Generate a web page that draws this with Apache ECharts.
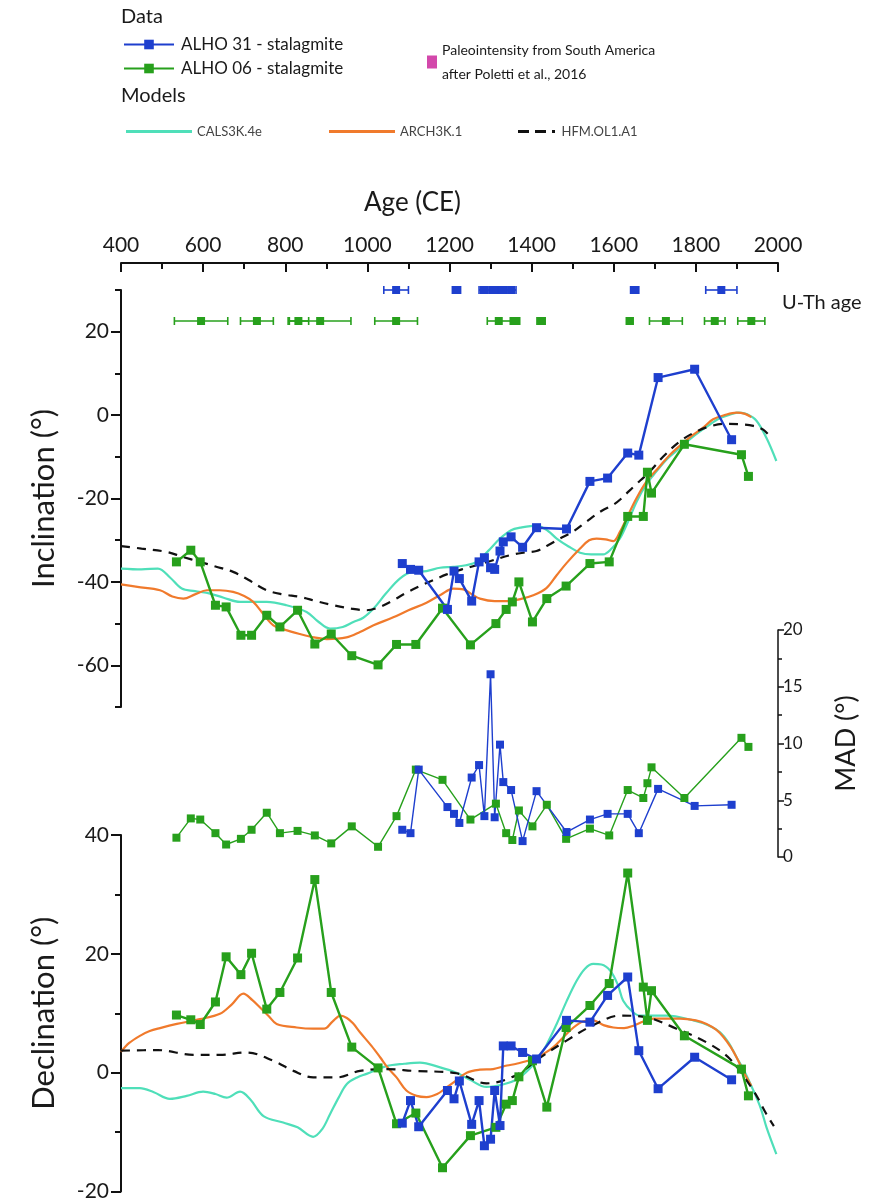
<!DOCTYPE html>
<html>
<head>
<meta charset="utf-8">
<script src="https://cdn.jsdelivr.net/npm/echarts@6/dist/echarts.min.js"></script>
<style>
  html, body { margin: 0; padding: 0; background: #ffffff; }
  #chart { width: 887px; height: 1202px; }
</style>
</head>
<body>
<div id="chart"></div>
<script>
// ---- Sample ages (CE) for each stalagmite ----
const ages31 = [1085, 1105, 1125, 1195, 1211, 1224, 1254, 1272, 1285, 1300, 1310, 1323, 1331, 1350, 1378, 1412, 1485, 1542, 1585, 1634, 1661, 1708, 1797, 1887];
const ages06 = [535, 570, 593, 630, 656, 692, 718, 755, 787, 830, 872, 912, 962, 1026, 1071, 1118, 1183, 1251, 1313, 1338, 1353, 1369, 1402, 1437, 1484, 1542, 1589, 1634, 1672, 1682, 1692, 1772, 1911, 1928];

// ---- Inclination (deg) ----
const inc31 = [-35.6, -37.0, -37.2, -46.6, -37.4, -39.2, -44.6, -35.2, -34.2, -36.6, -37.0, -32.6, -30.4, -29.2, -31.7, -27.0, -27.3, -15.9, -15.1, -9.1, -9.6, 9.0, 11.0, -5.9];
const inc06 = [-35.2, -32.4, -35.2, -45.6, -46.0, -52.8, -52.8, -48.0, -50.8, -46.8, -54.9, -52.5, -57.7, -59.9, -55.0, -55.0, -46.3, -55.1, -50.0, -46.6, -44.8, -40.0, -49.6, -44.0, -41.0, -35.6, -35.2, -24.3, -24.3, -13.7, -18.7, -7.0, -9.5, -14.7];

// ---- MAD (deg) ----
const mad31 = [2.4, 2.1, 7.7, 4.4, 3.8, 3.0, 7.0, 8.1, 3.6, 16.1, 3.5, 9.9, 6.6, 5.9, 1.4, 5.8, 2.2, 3.3, 3.8, 3.8, 2.1, 6.0, 4.5, 4.6];
const mad06 = [1.7, 3.4, 3.3, 2.1, 1.1, 1.6, 2.4, 3.9, 2.1, 2.3, 1.9, 1.2, 2.7, 0.9, 3.6, 7.7, 6.8, 3.3, 4.7, 2.1, 1.5, 4.1, 2.7, 4.6, 1.6, 2.5, 1.9, 5.9, 5.2, 6.5, 7.9, 5.2, 10.5, 9.7];

// ---- Declination (deg) ----
const dec31 = [-8.5, -4.7, -9.1, -3.0, -4.4, -1.4, -8.7, -4.7, -12.3, -11.2, -3.0, -8.9, 4.5, 4.5, 3.4, 2.3, 8.8, 8.5, 13.0, 16.1, 3.7, -2.7, 2.6, -1.2];
const dec06 = [9.7, 8.9, 8.1, 11.9, 19.5, 16.5, 20.1, 10.7, 13.5, 19.3, 32.5, 13.5, 4.3, 0.8, -8.6, -6.8, -16.0, -10.6, -9.2, -5.3, -4.7, -0.7, 2.0, -5.8, 7.6, 11.3, 15.0, 33.6, 14.4, 8.8, 13.8, 6.2, 0.6, -3.9];

// ---- Field model curves, [age, value] ----
const incCALS = [[400,-36.8],[450,-37],[490,-36.8],[520,-39],[548,-41.6],[580,-42.2],[617,-42.8],[650,-43.8],[690,-44.8],[755,-44.8],[803,-45.6],[852,-47.2],[880,-49.5],[909,-51.2],[940,-50.8],[966,-49.6],[990,-48.6],[1015,-46.4],[1045,-42.8],[1079,-39.2],[1110,-37.6],[1144,-37.4],[1177,-36.6],[1209,-36.4],[1240,-36],[1266,-35.2],[1295,-32.5],[1323,-29.6],[1350,-27.6],[1372,-27],[1412,-26.5],[1440,-27.8],[1461,-29.6],[1490,-31.5],[1518,-33],[1545,-33.4],[1574,-33.4],[1595,-32],[1615,-29.6],[1635,-25.5],[1656,-20.7],[1680,-16.5],[1704,-13.5],[1730,-10.5],[1761,-7.9],[1785,-5.8],[1810,-3.9],[1835,-2.2],[1859,-0.7],[1885,0.2],[1905,0.6],[1925,0.2],[1948,-1.4],[1972,-5.5],[1996,-11]];
const incARCH = [[400,-40.6],[440,-41.2],[495,-42],[525,-43.5],[552,-44],[580,-43],[609,-42],[640,-42],[673,-42.4],[700,-43.4],[722,-44.8],[745,-47.5],[771,-50.4],[800,-51.5],[836,-52.5],[870,-53.3],[901,-53.7],[949,-53.3],[982,-52],[1015,-50.4],[1063,-48.5],[1100,-46.8],[1144,-45],[1180,-43],[1209,-41.6],[1234,-41.8],[1255,-43],[1274,-44],[1310,-44.6],[1340,-44.6],[1370,-44.2],[1404,-43.2],[1436,-41.5],[1461,-38.4],[1485,-35.5],[1518,-32],[1540,-30],[1558,-29.6],[1580,-29.8],[1599,-30.2],[1615,-28],[1631,-24.8],[1655,-20],[1680,-15.9],[1710,-12.5],[1737,-9.5],[1765,-7],[1794,-4.7],[1820,-2.8],[1842,-1],[1870,0],[1899,0.6],[1920,0.3],[1935,-0.5]];
const incHFM = [[400,-31.4],[450,-32],[511,-32.8],[550,-34],[592,-35.2],[630,-36.3],[673,-37.6],[710,-39.5],[755,-42],[795,-43],[836,-43.6],[875,-44.6],[917,-45.6],[960,-46.4],[998,-46.8],[1030,-46],[1063,-44.4],[1095,-42.6],[1128,-41],[1160,-39.6],[1193,-38.2],[1230,-37],[1266,-36],[1300,-35],[1347,-33.6],[1380,-33],[1412,-32.6],[1440,-31.2],[1469,-29.6],[1500,-28],[1534,-25.5],[1570,-23],[1599,-21.5],[1615,-20.3],[1650,-17],[1688,-13.5],[1720,-10],[1761,-6.3],[1800,-4],[1834,-2.7],[1870,-2.1],[1907,-2.2],[1940,-2.6],[1964,-3.5],[1984,-5.5]];

const decCALS = [[400,-2.6],[446,-2.6],[480,-3.3],[519,-4.4],[560,-3.9],[600,-3.2],[630,-3.6],[657,-4.2],[690,-3.2],[715,-4.5],[747,-7.3],[795,-8.4],[830,-9.2],[868,-10.8],[890,-9.5],[909,-7],[930,-4.2],[950,-1.9],[975,-0.8],[998,-0.2],[1047,1.1],[1090,1.5],[1128,1.7],[1177,0.9],[1217,0],[1250,-1.2],[1290,-2.4],[1330,-2],[1363,-1.2],[1385,0],[1412,2],[1435,4.5],[1461,8.2],[1485,12],[1510,15.5],[1530,17.5],[1550,18.3],[1570,18.2],[1591,17.2],[1610,14.8],[1623,12.1],[1645,10.3],[1664,9.6],[1729,9.6],[1794,8.8],[1830,8],[1859,6.8],[1880,5],[1899,2.6],[1920,0],[1940,-3],[1958,-6],[1972,-9.2],[1996,-13.7]];
const decARCH = [[400,3.5],[420,5],[446,6.2],[470,7],[495,7.5],[536,8.2],[592,9],[641,9.9],[670,11.5],[698,13.3],[720,12.2],[738,11],[760,9.5],[779,8.2],[828,7.6],[868,7.4],[895,7.4],[915,8.6],[935,9.6],[950,9.2],[965,8.3],[982,6.8],[1010,4.5],[1031,2.6],[1050,0.8],[1071,-0.8],[1095,-3],[1120,-3.9],[1144,-4.1],[1170,-3.6],[1193,-2.5],[1215,-1.4],[1242,0],[1274,0.5],[1306,0.6],[1340,1.2],[1363,1.5],[1404,2.3],[1430,3.2],[1453,4.3],[1478,6],[1502,7.6],[1525,8.6],[1550,8.8],[1575,8],[1599,7.6],[1625,7.5],[1648,7.9],[1672,8.6],[1696,9.1],[1761,9.1],[1800,8.8],[1826,8.2],[1850,7.2],[1867,6],[1885,4.3],[1899,2.6],[1915,0.3],[1935,-2.2]];
const decHFM = [[400,3.7],[490,3.8],[576,3],[641,3],[706,3.4],[771,2],[820,0.3],[868,-0.8],[925,-0.8],[982,0.3],[1047,0.6],[1112,0.3],[1217,-0.1],[1290,-1.8],[1360,-0.5],[1420,2.5],[1485,5.4],[1550,8],[1615,9.6],[1680,9.3],[1753,7.4],[1826,5.1],[1883,2.3],[1940,-3],[1972,-7],[1990,-9]];

// ---- U-Th ages: centre and 2-sigma half-width (years) ----
const uth31Age = [1070, 1217, 1284, 1307, 1330, 1350, 1651, 1862];
const uth31Err = [30, 10, 12, 10, 10, 12, 10, 38];
const uth06Age = [595, 731, 832, 885, 1070, 1320, 1361, 1423, 1639, 1727, 1846, 1935];
const uth06Err = [65, 40, 25, 75, 52, 28, 10, 10, 8, 40, 25, 33];

// ---- Axis ranges and tick values ----
const ageMin = 400, ageMax = 2000, ageStep = 200;
const incMajor = [-60, -40, -20, 0, 20];
const incMinor = [-70, -50, -30, -10, 10, 30];

// ---- Names ----
const N31 = 'ALHO 31 - stalagmite';
const N06 = 'ALHO 06 - stalagmite';
const NPI = 'Paleointensity from South America\nafter Poletti et al., 2016';
const NCALS = 'CALS3K.4e', NARCH = 'ARCH3K.1', NHFM = 'HFM.OL1.A1';

const C31 = '#1e3fce', C06 = '#27a01c', CCALS = '#4fdfb9', CARCH = '#f07a2c', CHFM = '#111111', CPI = '#c81a96';
const FONT = 'Lato, "Open Sans", sans-serif';

// legend glyphs for the model curves: a solid bar, and dashes with a dot
const ICON_SOLID = 'path://M0,0 L66,0 L66,3 L0,3 Z';
const ICON_DASHED = 'path://M0,0 L11,0 L11,3 L0,3 Z M17,0 L28,0 L28,3 L17,3 Z M34,0 L37,0 L37,3 L34,3 Z';

const zip = (a, b) => a.map((v, i) => [v, b[i]]);

// sample series (squares joined by straight segments)
function dataSeries(name, color, ages, vals, gi, opts) {
  return Object.assign({
    name, type: 'line', xAxisIndex: gi.x, yAxisIndex: gi.y,
    data: zip(ages, vals), symbol: 'rect', symbolSize: 9, showSymbol: true,
    lineStyle: { color, width: 2.4 }, itemStyle: { color, borderWidth: 0 },
    z: 5, animation: false, silent: true
  }, opts || {});
}
// model curve series
function modelSeries(name, color, data, gi, dashed) {
  return {
    name, type: 'line', xAxisIndex: gi.x, yAxisIndex: gi.y, data,
    smooth: 0.35, symbol: 'none', showSymbol: false,
    lineStyle: { color, width: 2.2, type: dashed ? [9, 7] : 'solid' },
    itemStyle: { color }, z: 3, animation: false, silent: true
  };
}
// U-Th horizontal error bars with end caps and square marker
function uthSeries(name, color, ages, errs, row) {
  return {
    name, type: 'custom', xAxisIndex: 1, yAxisIndex: 2, clip: false,
    data: ages.map((a, i) => [a, errs[i], row]),
    encode: { x: 0, y: 2 },
    animation: false, silent: true,
    renderItem(params, api) {
      const a = api.value(0), e = api.value(1), r = api.value(2);
      const lo = api.coord([a - e, r]), hi = api.coord([a + e, r]), c = api.coord([a, r]);
      const st = { stroke: color, lineWidth: 1.6, fill: null };
      const cap = 4;
      return {
        type: 'group',
        children: [
          { type: 'line', shape: { x1: lo[0], y1: lo[1], x2: hi[0], y2: hi[1] }, style: st },
          { type: 'line', shape: { x1: lo[0], y1: lo[1] - cap, x2: lo[0], y2: lo[1] + cap }, style: st },
          { type: 'line', shape: { x1: hi[0], y1: hi[1] - cap, x2: hi[0], y2: hi[1] + cap }, style: st },
          { type: 'rect', shape: { x: c[0] - 4, y: c[1] - 4, width: 8, height: 8 }, style: { fill: color } }
        ]
      };
    }
  };
}

const G_INC = { x: 0, y: 0 }, G_MAD = { x: 2, y: 3 }, G_DEC = { x: 3, y: 4 };
const gridBox = (top, height) => ({ left: 121, width: 657, top, height, containLabel: false });

const axisText = { color: '#1a1a1a', fontFamily: FONT };
const hiddenX = (gridIndex) => ({ type: 'value', gridIndex, min: ageMin, max: ageMax, show: false });
const modelLegend = (left, name, icon, width) => ({
  left, top: 120, itemWidth: width, itemHeight: 3, selectedMode: false,
  data: [{ name, icon }],
  textStyle: { fontSize: 13, color: '#444', fontFamily: FONT }
});

const option = {
  backgroundColor: '#ffffff',
  textStyle: { fontFamily: FONT },
  animation: false,
  grid: [gridBox(290, 417), gridBox(290, 31), gridBox(630, 227), gridBox(835, 357)],
  xAxis: [
    {
      type: 'value', gridIndex: 0, position: 'top', offset: 27,
      min: ageMin, max: ageMax, interval: ageStep,
      name: 'Age (CE)', nameLocation: 'middle', nameGap: 47,
      nameTextStyle: Object.assign({ fontSize: 26, padding: [0, 74, 0, 0] }, axisText),
      axisLine: { show: true, onZero: false, lineStyle: { color: '#111', width: 2 } },
      axisTick: { show: true, inside: true, length: 9, lineStyle: { color: '#111', width: 2 } },
      minorTick: { show: true, splitNumber: 2, length: 6, lineStyle: { color: '#111', width: 2 } },
      axisLabel: Object.assign({ fontSize: 21, margin: 7, formatter: (v) => String(v) }, axisText),
      splitLine: { show: false }
    },
    hiddenX(1), hiddenX(2), hiddenX(3)
  ],
  yAxis: [
    {
      type: 'value', gridIndex: 0, position: 'left', min: -70, max: 30,
      name: 'Inclination (°)', nameLocation: 'middle', nameGap: 62, nameRotate: 90,
      nameTextStyle: Object.assign({ fontSize: 31 }, axisText),
      axisLine: { show: true, onZero: false, lineStyle: { color: '#111', width: 2 } },
      axisTick: { show: true, length: 10, customValues: incMajor, lineStyle: { color: '#111', width: 2 } },
      axisLabel: Object.assign({ fontSize: 21, margin: 12, customValues: incMajor }, axisText),
      splitLine: { show: false }
    },
    {
      type: 'value', gridIndex: 0, position: 'left', min: -70, max: 30,
      axisLine: { show: false, onZero: false },
      axisTick: { show: true, length: 6, customValues: incMinor, lineStyle: { color: '#111', width: 2 } },
      axisLabel: { show: false },
      splitLine: { show: false }
    },
    { type: 'value', gridIndex: 1, min: 0, max: 1, show: false },
    {
      type: 'value', gridIndex: 2, position: 'right', min: 0, max: 20, interval: 5,
      name: 'MAD (°)', nameLocation: 'middle', nameGap: 55, nameRotate: 90,
      nameTextStyle: Object.assign({ fontSize: 27 }, axisText),
      axisLine: { show: true, onZero: false, lineStyle: { color: '#111', width: 1.5 } },
      axisTick: { show: true, length: 6, lineStyle: { color: '#111', width: 1.5 } },
      minorTick: { show: true, splitNumber: 2, length: 4, lineStyle: { color: '#111', width: 1.5 } },
      axisLabel: Object.assign({ fontSize: 17, margin: 5 }, axisText),
      splitLine: { show: false }
    },
    {
      type: 'value', gridIndex: 3, position: 'left', min: -20, max: 40, interval: 20,
      name: 'Declination (°)', nameLocation: 'middle', nameGap: 62, nameRotate: 90,
      nameTextStyle: Object.assign({ fontSize: 31 }, axisText),
      axisLine: { show: true, onZero: false, lineStyle: { color: '#111', width: 2 } },
      axisTick: { show: true, length: 10, lineStyle: { color: '#111', width: 2 } },
      minorTick: { show: true, splitNumber: 2, length: 6, lineStyle: { color: '#111', width: 2 } },
      axisLabel: Object.assign({ fontSize: 21, margin: 12 }, axisText),
      splitLine: { show: false }
    }
  ],
  legend: [
    {
      left: 118, top: 31, orient: 'vertical', itemGap: 7, itemWidth: 50, itemHeight: 12,
      selectedMode: false, data: [N31, N06],
      textStyle: { fontSize: 17, color: '#1a1a1a', fontFamily: FONT, padding: [0, 0, 0, 2] }
    },
    {
      left: 422, top: 33, orient: 'vertical', itemWidth: 10, itemHeight: 13, icon: 'rect',
      selectedMode: false, data: [NPI],
      textStyle: { fontSize: 14, lineHeight: 24, color: '#1a1a1a', fontFamily: FONT }
    },
    modelLegend(121, NCALS, ICON_SOLID, 66),
    modelLegend(324, NARCH, ICON_SOLID, 66),
    modelLegend(513, NHFM, ICON_DASHED, 40)
  ],
  graphic: [
    { type: 'text', left: 121, top: 7, style: { text: 'Data', fontSize: 20, fill: '#1a1a1a', fontFamily: FONT } },
    { type: 'text', left: 121, top: 86, style: { text: 'Models', fontSize: 20, fill: '#1a1a1a', fontFamily: FONT } },
    { type: 'text', left: 782, top: 293, style: { text: 'U-Th age', fontSize: 20, fill: '#1a1a1a', fontFamily: FONT } }
  ],
  series: [
    // inclination panel
    modelSeries(NCALS, CCALS, incCALS, G_INC),
    modelSeries(NARCH, CARCH, incARCH, G_INC),
    modelSeries(NHFM, CHFM, incHFM, G_INC, true),
    dataSeries(N06, C06, ages06, inc06, G_INC),
    dataSeries(N31, C31, ages31, inc31, G_INC),
    // U-Th dating
    uthSeries('U-Th ALHO 31', C31, uth31Age, uth31Err, 1),
    uthSeries('U-Th ALHO 06', C06, uth06Age, uth06Err, 0),
    // MAD panel
    dataSeries(N06, C06, ages06, mad06, G_MAD, { symbolSize: 8, lineStyle: { color: C06, width: 1.4 } }),
    dataSeries(N31, C31, ages31, mad31, G_MAD, { symbolSize: 8, lineStyle: { color: C31, width: 1.4 } }),
    // declination panel
    modelSeries(NCALS, CCALS, decCALS, G_DEC),
    modelSeries(NARCH, CARCH, decARCH, G_DEC),
    modelSeries(NHFM, CHFM, decHFM, G_DEC, true),
    dataSeries(N06, C06, ages06, dec06, G_DEC),
    dataSeries(N31, C31, ages31, dec31, G_DEC),
    // South American paleointensity (legend entry)
    { name: NPI, type: 'scatter', xAxisIndex: 0, yAxisIndex: 0, data: [], symbol: 'rect', itemStyle: { color: CPI } }
  ]
};

const chart = echarts.init(document.getElementById('chart'), null, { renderer: 'canvas' });
chart.setOption(option);
</script>
</body>
</html>
